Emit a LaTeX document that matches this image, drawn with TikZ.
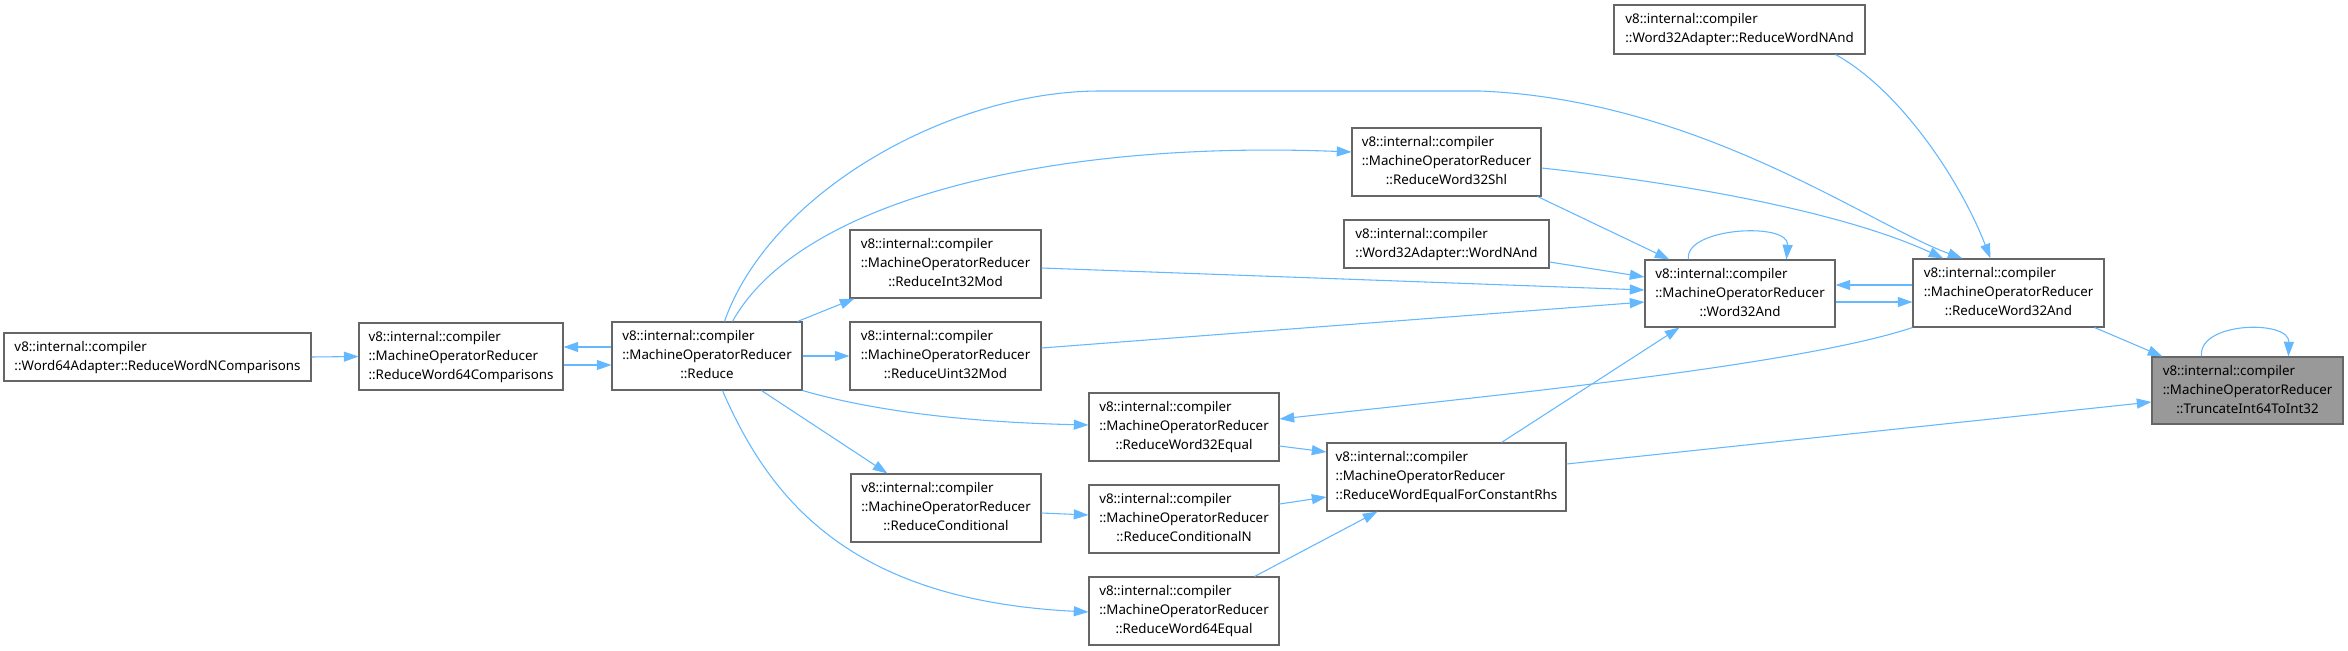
\documentclass[tikz,border=0pt]{standalone}
\usepackage{fontspec}
\setmainfont{Noto Sans}
\usetikzlibrary{arrows.meta,calc}
\definecolor{edgeblue}{HTML}{63B8FF}
\definecolor{boxgrey}{HTML}{666666}
\definecolor{boxfill}{HTML}{999999}
\newcommand\lblfont{\fontsize{10pt}{14.25pt}\selectfont}
\newcommand\mylbl[1]{\begin{tabular}{@{}l@{}}v8::internal::compiler\\::MachineOperatorReducer\\\multicolumn{1}{@{}c@{}}{#1}\end{tabular}}
\newcommand\mylbltwo[1]{\begin{tabular}{@{}l@{}}v8::internal::compiler\\#1\end{tabular}}
\tikzset{
  box/.style 2 args={draw=boxgrey, line width=0.8pt, fill=white, inner sep=0pt,
    minimum width=#1*0.75pt, minimum height=#2*0.75pt, font=\lblfont},
  edge/.style={draw=edgeblue, line width=0.8pt, -{Triangle[length=11pt,width=7.5pt]}}
}
\begin{document}
\begin{tikzpicture}[x=0.75pt,y=-0.75pt]
\fill[white] (0,0) rectangle (2348,650);
\useasboundingbox (0,0) rectangle (2348,650);
% nodes
\node[box={307}{48}] (n1) at (157.5,357) {\mylbltwo{::Word64Adapter::ReduceWordNComparisons}};
\node[box={204}{67}] (n2) at (461,356.5) {\mylbl{::ReduceWord64Comparisons}};
\node[box={190}{68}] (n3) at (707,356) {\mylbl{::Reduce}};
\node[box={191}{68}] (n4) at (945.5,264) {\mylbl{::ReduceInt32Mod}};
\node[box={191}{68}] (n5) at (945.5,356) {\mylbl{::ReduceUint32Mod}};
\node[box={189}{68}] (n6) at (1446.5,162) {\mylbl{::ReduceWord32Shl}};
\node[box={205}{48}] (n7) at (1446.5,244) {\mylbltwo{::Word32Adapter::WordNAnd}};
\node[box={190}{68}] (n8) at (1184,427) {\mylbl{::ReduceWord32Equal}};
\node[box={190}{68}] (n9) at (946,508) {\mylbl{::ReduceConditional}};
\node[box={190}{68}] (n10) at (1184,519) {\mylbl{::ReduceConditionalN}};
\node[box={190}{68}] (n11) at (1184,611) {\mylbl{::ReduceWord64Equal}};
\node[box={239}{68}] (n12) at (1446.5,477) {\mylbl{::ReduceWordEqualForConstantRhs}};
\node[box={190}{67}] (n13) at (1740,293.5) {\mylbl{::Word32And}};
\node[box={251}{49}] (n14) at (1739.5,29.5) {\mylbltwo{::Word32Adapter::ReduceWordNAnd}};
\node[box={191}{68}] (n15) at (2008.5,293) {\mylbl{::ReduceWord32And}};
\node[box={191}{67}, fill=boxfill] (n16) at (2247.5,390.5) {\mylbl{::TruncateInt64ToInt32}};
% edges
\draw[edge] (n1.east) -- (n2.west);
\draw[edge] ($(n3.west)+(0,-9)$) -- ($(n2.east)+(0,-9.5)$);
\draw[edge] ($(n2.east)+(0,8.5)$) -- ($(n3.west)+(0,9)$);
\draw[edge] ($(n3.north east)+(-5,0)$) -- ($(n4.south west)+(5,0)$);
\draw[edge] (n3.east) -- (n5.west);
\draw[edge] ($(n3.north west)+(121,0)$) .. controls (800,200) and (1050,140) .. ($(n6.west)+(0,-10)$);
\draw[edge] ($(n3.north west)+(113,0)$) .. controls (770,192) and (950,91) .. (1100,91) -- (1480,91) .. controls (1700,100) and (1870,225) .. ($(n15.north west)+(50,0)$);
\draw[edge] ($(n6.east)+(0,6)$) .. controls (1700,185) and (1850,215) .. ($(n15.north west)+(31,0)$);
\draw[edge] ($(n14.south west)+(222,0)$) .. controls (1900,90) and (1960,180) .. ($(n15.north west)+(78,0)$);
\draw[edge] ($(n6.south east)+(-4,0)$) -- ($(n13.north west)+(25,0)$);
\draw[edge] ($(n7.east)+(0,18)$) -- ($(n13.west)+(0,-16.5)$);
\draw[edge] ($(n4.east)+(0,4)$) -- ($(n13.west)+(0,-3.5)$);
\draw[edge] ($(n5.east)+(0,-8)$) -- ($(n13.west)+(0,8.5)$);
\draw[edge] ($(n13.north west)+(44,0)$) .. controls +(-5,-32) and +(3,-38) .. ($(n13.north west)+(142,0)$);
\draw[edge] ($(n15.west)+(0,-8)$) -- ($(n13.east)+(0,-8.5)$);
\draw[edge] ($(n13.east)+(0,8.5)$) -- ($(n15.west)+(0,9)$);
\draw[edge] (n15.south west) .. controls (1800,365) and (1500,395) .. ($(n8.east)+(0,-8)$);
\draw[edge] ($(n15.south east)+(-10,0)$) -- ($(n16.north west)+(11,0)$);
\draw[edge] ($(n12.east)+(0,-13)$) -- ($(n16.west)+(0,11.5)$);
\draw[edge] ($(n16.north west)+(50,0)$) .. controls +(-4,-35) and +(1,-37) .. ($(n16.north west)+(137,0)$);
\draw[edge] ($(n12.north west)+(175,0)$) -- ($(n13.south west)+(35,0)$);
\draw[edge] (n3.south east) .. controls (870,410) and (960,422) .. ($(n8.west)+(0,-2)$);
\draw[edge] ($(n8.east)+(0,19)$) -- ($(n12.west)+(0,-25)$);
\draw[edge] ($(n3.south west)+(150,0)$) -- ($(n9.north west)+(37,0)$);
\draw[edge] ($(n9.east)+(0,5)$) -- ($(n10.west)+(0,-4)$);
\draw[edge] ($(n10.east)+(0,-15)$) -- ($(n12.west)+(0,20)$);
\draw[edge] ($(n3.south west)+(111,0)$) .. controls (770,500) and (850,600) .. ($(n11.west)+(0,1)$);
\draw[edge] ($(n11.north east)+(-25,0)$) -- ($(n12.south west)+(51,0)$);
\end{tikzpicture}
\end{document}
